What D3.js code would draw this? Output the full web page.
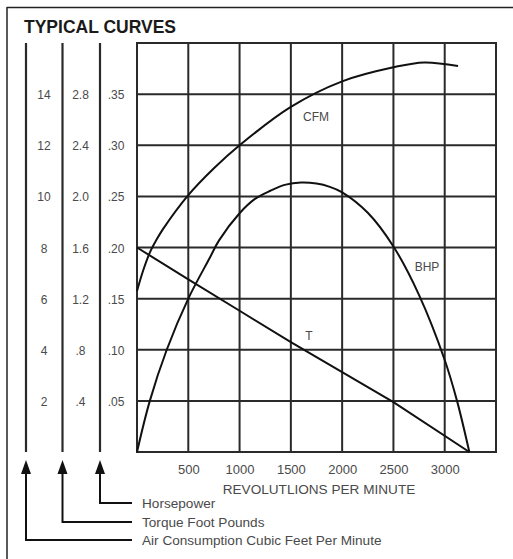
<!DOCTYPE html>
<html>
<head>
<meta charset="UTF-8">
<title>Typical Curves</title>
<style>
  body { margin: 0; background: #fff; }
  svg { display: block; font-family: "Liberation Sans", Arial, Helvetica, sans-serif; }
  .grid line { stroke: #2a2a2a; stroke-width: 2; }
  .curve { fill: none; stroke: #111; stroke-width: 2; }
  .lbl { fill: #4a4a4a; }
</style>
</head>
<body>
<svg id="chart" width="513" height="559"></svg>
<script src="https://d3js.org/d3.v7.min.js"></script>
<script>

// ---- data ----
const rpmTicks = [500, 1000, 1500, 2000, 2500, 3000];
const cfmTicks = [2, 4, 6, 8, 10, 12, 14];
const torqueTicks = [0.4, 0.8, 1.2, 1.6, 2.0, 2.4, 2.8];
const torqueLabels = [".4", ".8", "1.2", "1.6", "2.0", "2.4", "2.8"];
const hpTicks = [0.05, 0.10, 0.15, 0.20, 0.25, 0.30, 0.35];
const hpLabels = [".05", ".10", ".15", ".20", ".25", ".30", ".35"];

// CFM curve (cubic feet per minute)
const cfmRpm = [0, 60, 125, 190, 250, 500, 750, 1000, 1500, 2000, 2500, 2800, 3130];
const cfmVal = [6.3, 7.1, 7.8, 8.3, 8.7, 10.05, 11.1, 12.0, 13.5, 14.5, 15.05, 15.24, 15.1];

// BHP curve (horsepower)
const bhpRpm = [0, 125, 290, 500, 710, 800, 1000, 1150, 1300, 1450, 1600, 1750, 1880, 2000, 2250, 2500, 2750, 3000, 3120, 3240];
const bhpVal = [0, 0.05, 0.10, 0.15, 0.19, 0.207, 0.2335, 0.2475, 0.2555, 0.2615, 0.2635, 0.2625, 0.2593, 0.254, 0.234, 0.201, 0.1535, 0.09, 0.05, 0];

// T curve (torque foot pounds)
const tRpm = [0, 500, 1000, 1500, 2000, 2500, 3240];
const tVal = [1.6, 1.35, 1.105, 0.86, 0.625, 0.39, 0];

const keyNames = ["Horsepower", "Torque Foot Pounds", "Air Consumption Cubic Feet Per Minute"];

// ---- layout ----
let svg = d3.select("#chart");
let pLeft = 137, pRight = 496, pTop = 43, pBottom = 452;

let x = d3.scaleLinear().domain([0, 3500]).range([pLeft, pRight]);
let yCfm = d3.scaleLinear().domain([0, 16]).range([pBottom, pTop]);
let yT = d3.scaleLinear().domain([0, 3.2]).range([pBottom, pTop]);
let yHp = d3.scaleLinear().domain([0, 0.4]).range([pBottom, pTop]);

// outer frame (top and left only visible)
svg.append("line").attr("x1", 7).attr("x2", 513).attr("y1", 7.5).attr("y2", 7.5)
    .attr("stroke", "#222").attr("stroke-width", 1.5);
svg.append("line").attr("x1", 7).attr("x2", 7).attr("y1", 7).attr("y2", 559)
    .attr("stroke", "#222").attr("stroke-width", 1.5);

// title
svg.append("text").attr("x", 24).attr("y", 33)
    .style("font-size", "17.5px").style("font-weight", "bold").attr("fill", "#1a1a1a")
    .text("TYPICAL CURVES");

// grid
let grid = svg.append("g").attr("class", "grid");
grid.selectAll(".v").data(rpmTicks.concat([0, 3500])).enter().append("line")
    .attr("x1", d => x(d)).attr("x2", d => x(d))
    .attr("y1", pTop).attr("y2", pBottom);
grid.selectAll(".h").data(hpTicks.concat([0, 0.4])).enter().append("line")
    .attr("x1", pLeft - 1).attr("x2", pRight + 1)
    .attr("y1", d => yHp(d)).attr("y2", d => yHp(d));

// bottom axis labels
let xAxis = d3.axisBottom(x).tickValues(rpmTicks).tickFormat(d3.format("d")).tickSize(0).tickPadding(0);
let gx = svg.append("g").attr("transform", "translate(0," + 464 + ")").call(xAxis);
gx.select(".domain").remove();
gx.selectAll("text").attr("dy", "0.8em").attr("fill", "#4a4a4a")
    .style("font-size", "13px").style("font-family", "'Liberation Sans', Arial, sans-serif");

svg.append("text").attr("class", "lbl").attr("x", 319).attr("y", 494)
    .attr("text-anchor", "middle").style("font-size", "13.6px")
    .text("REVOLUTLIONS PER MINUTE");

// left value columns
let cols = [
  { x: 26, lx: 44, ticks: cfmTicks, labels: cfmTicks.map(String), scale: yCfm, keyY: 540 },
  { x: 62.5, lx: 80.5, ticks: torqueTicks, labels: torqueLabels, scale: yT, keyY: 522 },
  { x: 100, lx: 116, ticks: hpTicks, labels: hpLabels, scale: yHp, keyY: 503 }
];

cols.forEach(function (c) {
  svg.append("line").attr("x1", c.x).attr("x2", c.x).attr("y1", pTop).attr("y2", pBottom)
      .attr("stroke", "#2a2a2a").attr("stroke-width", 2.2);
  svg.selectAll(null).data(c.ticks).enter().append("text")
      .attr("class", "lbl")
      .attr("x", c.lx)
      .attr("y", d => c.scale(d) + 1)
      .attr("text-anchor", "middle")
      .attr("dominant-baseline", "central")
      .style("font-size", "12px")
      .text((d, i) => c.labels[i]);
  // arrow head
  svg.append("path")
      .attr("d", "M" + c.x + ",460 L" + (c.x - 5) + ",474 L" + (c.x + 5) + ",474 Z")
      .attr("fill", "#111");
  // arrow stem + leader
  svg.append("path")
      .attr("d", "M" + c.x + ",472 V" + c.keyY + " H132")
      .attr("fill", "none").attr("stroke", "#111").attr("stroke-width", 2);
});

// key labels
svg.selectAll(".key").data(keyNames).enter().append("text")
    .attr("class", "lbl")
    .attr("x", 142)
    .attr("y", (d, i) => cols[2 - i].keyY + 5)
    .style("font-size", "13.6px")
    .text(d => d);

// curves
let lineCfm = d3.line().x(d => x(d[0])).y(d => yCfm(d[1])).curve(d3.curveCatmullRom.alpha(0.5));
let lineHp = d3.line().x(d => x(d[0])).y(d => yHp(d[1])).curve(d3.curveCatmullRom.alpha(0.5));
let lineT = d3.line().x(d => x(d[0])).y(d => yT(d[1]));

svg.append("path").attr("class", "curve").attr("d", lineCfm(d3.zip(cfmRpm, cfmVal)));
svg.append("path").attr("class", "curve").attr("d", lineHp(d3.zip(bhpRpm, bhpVal)));
svg.append("path").attr("class", "curve").attr("d", lineT(d3.zip(tRpm, tVal)));

// curve names
svg.append("text").attr("class", "lbl").attr("x", 316).attr("y", 121)
    .attr("text-anchor", "middle").style("font-size", "12px").text("CFM");
svg.append("text").attr("class", "lbl").attr("x", 427).attr("y", 271)
    .attr("text-anchor", "middle").style("font-size", "12px").text("BHP");
svg.append("text").attr("class", "lbl").attr("x", 309).attr("y", 340)
    .attr("text-anchor", "middle").style("font-size", "12px").text("T");

</script>
</body>
</html>
